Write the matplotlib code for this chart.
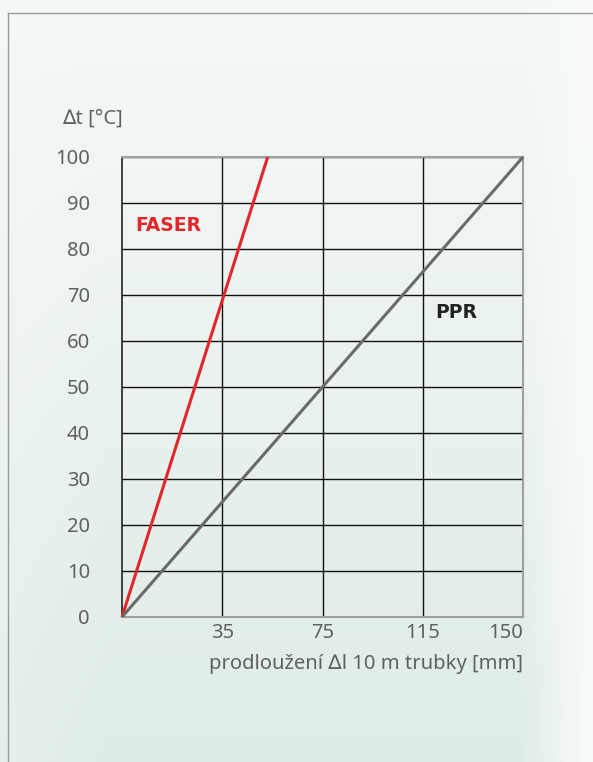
import numpy as np
import matplotlib
matplotlib.use("Agg")
import matplotlib.pyplot as plt

# data
series_names = ["FASER", "PPR"]
faser_x = [0, 54.5]
faser_y = [0, 100]
ppr_x = [0, 150]
ppr_y = [0, 100]
xtick_pos = [37.5, 75, 112.5, 150]
xtick_labels = ["35", "75", "115", "150"]
ytick_vals = list(range(0, 101, 10))

W, H = 593, 762
fig = plt.figure(figsize=(W / 100, H / 100), dpi=100)

# background gradient
bg = fig.add_axes([0, 0, 1, 1])
bg.set_axis_off()
yy, xx = np.mgrid[0:1:200j, 0:1:200j]
g = np.clip(0.15 + 0.85 * yy, 0, 1) * np.clip((1.0 - xx) / 0.12, 0, 1)
g = np.clip(g - 0.25 * np.clip((0.18 - xx) / 0.18, 0, 1) * yy, 0, 1)
white = np.array([0.975, 0.985, 0.98])
green = np.array([0.875, 0.925, 0.9])
img = white[None, None, :] * (1 - g[..., None]) + green[None, None, :] * g[..., None]
bg.imshow(img, extent=[0, 1, 0, 1], origin="upper", aspect="auto")
bg.set_xlim(0, 1)
bg.set_ylim(0, 1)
bg.plot([8 / W, 1], [1 - 13 / H, 1 - 13 / H], color="#9a9a9a", lw=1.0)
bg.plot([8 / W, 8 / W], [0, 1 - 13 / H], color="#9a9a9a", lw=1.0)

font = ["Noto Sans", "DejaVu Sans"]
bold_font = ["DejaVu Sans"]
txt = "#606060"
fs = 14.5

ax = fig.add_axes([122 / W, 1 - 617 / H, 401 / W, 460 / H])
ax.patch.set_alpha(0)
ax.set_xlim(0, 150)
ax.set_ylim(0, 100)
ax.set_xticks(xtick_pos)
ax.set_xticklabels(xtick_labels)
ax.set_yticks(ytick_vals)
ax.set_yticklabels([str(v) for v in ytick_vals])
ax.tick_params(length=0, labelsize=fs, labelcolor=txt)
for lab in ax.get_xticklabels() + ax.get_yticklabels():
    lab.set_family(font)
ax.get_xticklabels()[-1].set_horizontalalignment("right")
ax.tick_params(axis="y", pad=23)
ax.tick_params(axis="x", pad=4)
ax.grid(True, color="#111111", lw=1.0)
ax.set_axisbelow(True)
for s in ["top", "right", "bottom"]:
    ax.spines[s].set_color("#a0a0a0")
    ax.spines[s].set_linewidth(1.5)
ax.spines["left"].set_color("#222222")
ax.spines["left"].set_linewidth(1.2)

ax.plot(faser_x, faser_y, color="#e3262b", lw=2.2, solid_capstyle="butt", clip_on=False, zorder=3)
ax.plot(ppr_x, ppr_y, color="#6a6a6a", lw=2.2, solid_capstyle="butt", clip_on=False, zorder=3)

ax.text(4.9, 85.2, series_names[0], color="#e3262b", fontsize=13.5, fontweight="bold",
        family=bold_font, va="center", ha="left")
ax.text(117, 66.2, series_names[1], color="#222222", fontsize=13.5, fontweight="bold",
        family=bold_font, va="center", ha="left")

fig.text(62 / W, 1 - 119 / H, "∆t [°C]", color=txt, fontsize=fs, family=font,
         va="center", ha="left")
fig.text(523 / W, 1 - 664 / H, "prodloužení ∆l 10 m trubky [mm]", color=txt, fontsize=fs,
         family=font, va="center", ha="right")

fig.savefig("out.png", dpi=100)
